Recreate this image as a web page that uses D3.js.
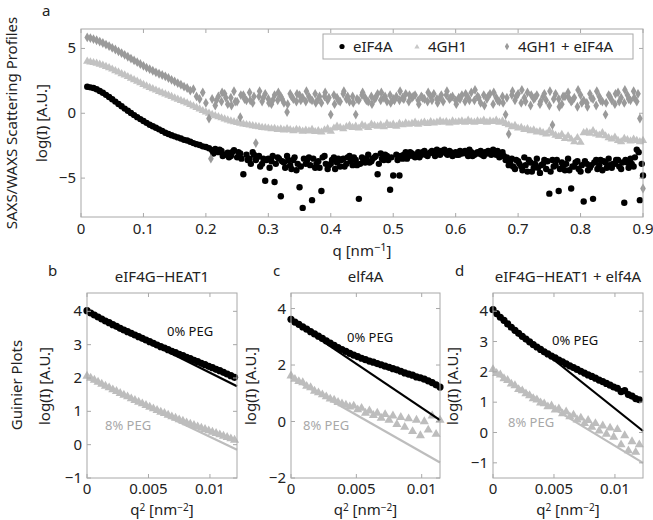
<!doctype html>
<html>
  <head>
    <meta charset="utf-8">
    <title>SAXS/WAXS scattering profiles and Guinier plots</title>
    <script src="https://cdnjs.cloudflare.com/ajax/libs/d3/7.8.5/d3.min.js"></script>
    <style>
      body { margin: 0; background: #fff; }
      svg text { font-family: "Noto Sans", sans-serif; fill: #222; }
    </style>
  </head>
  <body>
    <div id="chart"></div>
    <script>
      // ---- panel a: scattering profiles (q in nm^-1, log(I)) ----
      const qGrid = [
        0.010,0.015,0.020,0.025,0.030,0.035,0.040,0.045,0.050,0.055,
        0.060,0.065,0.070,0.075,0.080,0.085,0.090,0.095,0.100,0.105,
        0.110,0.115,0.120,0.125,0.130,0.135,0.140,0.145,0.150,0.155,
        0.160,0.165,0.170,0.175,0.180,0.185,0.190,0.195,0.200,0.205,
        0.210,0.215,0.220,0.225,0.230,0.235,0.240,0.245,0.250,0.255,
        0.260,0.265,0.270,0.275,0.280,0.285,0.290,0.295,0.300,0.305,
        0.310,0.315,0.320,0.325,0.330,0.335,0.340,0.345,0.350,0.355,
        0.360,0.365,0.370,0.375,0.380,0.385,0.390,0.395,0.400,0.405,
        0.410,0.415,0.420,0.425,0.430,0.435,0.440,0.445,0.450,0.455,
        0.460,0.465,0.470,0.475,0.480,0.485,0.490,0.495,0.500,0.505,
        0.510,0.515,0.520,0.525,0.530,0.535,0.540,0.545,0.550,0.555,
        0.560,0.565,0.570,0.575,0.580,0.585,0.590,0.595,0.600,0.605,
        0.610,0.615,0.620,0.625,0.630,0.635,0.640,0.645,0.650,0.655,
        0.660,0.665,0.670,0.675,0.680,0.685,0.690,0.695,0.700,0.705,
        0.710,0.715,0.720,0.725,0.730,0.735,0.740,0.745,0.750,0.755,
        0.760,0.765,0.770,0.775,0.780,0.785,0.790,0.795,0.800,0.805,
        0.810,0.815,0.820,0.825,0.830,0.835,0.840,0.845,0.850,0.855,
        0.860,0.865,0.870,0.875,0.880,0.885,0.890,0.895,0.900
      ];
      const eif4a = [
        2.05,2.0,1.95,1.85,1.72,1.58,1.42,1.25,1.08,0.9,
        0.72,0.54,0.36,0.19,0.02,-0.14,-0.3,-0.45,-0.6,-0.74,
        -0.88,-1.0,-1.12,-1.24,-1.36,-1.5,-1.6,-1.7,-1.78,-1.86,
        -1.95,-2.05,-2.1,-2.2,-2.3,-2.38,-2.45,-2.55,-2.6,-2.7,
        -2.85,-2.75,-3.0,-2.9,-3.2,-3.05,-3.3,-2.85,-3.4,-3.1,
        -4.7,-3.2,-3.5,-3.0,-3.6,-3.3,-3.9,-5.2,-3.5,-3.7,
        -5.3,-3.4,-6.4,-3.8,-3.3,-4.0,-3.6,-4.4,-5.7,-7.3,
        -3.9,-3.4,-6.7,-4.2,-3.7,-6.0,-3.3,-4.3,-3.9,-3.4,
        -3.8,-4.1,-3.5,-3.9,-3.3,-4.0,-3.6,-6.6,-3.4,-3.8,
        -3.2,-3.7,-3.4,-4.7,-3.1,-3.6,-3.3,-5.9,-4.8,-3.2,
        -4.8,-3.5,-3.0,-3.3,-3.1,-3.4,-3.0,-3.2,-2.9,-3.3,
        -3.0,-3.1,-2.8,-3.2,-3.0,-3.1,-2.9,-3.3,-3.0,-3.2,
        -3.1,-2.9,-3.3,-3.0,-3.2,-3.0,-2.9,-3.3,-3.1,-3.0,
        -2.8,-3.2,-3.4,-3.0,-3.6,-4.0,-3.5,-4.3,-3.7,-4.1,
        -3.4,-4.5,-3.8,-4.2,-3.5,-4.6,-3.9,-4.3,-6.2,-3.6,
        -4.0,-6.0,-3.8,-4.4,-3.5,-5.8,-4.1,-3.7,-4.5,-6.8,
        -3.9,-4.2,-6.6,-3.6,-4.0,-4.4,-3.8,-3.5,-4.2,-3.9,
        -3.6,-4.3,-6.9,-3.8,-3.5,-4.1,-2.8,-6.7,-4.8
      ];
      // additional measured points of the same curve (q, logI)
      const eif4aExtra = [
        [0.212,-3.1],[0.227,-3.3],[0.242,-3.0],[0.257,-3.5],[0.267,-3.6],[0.282,-3.4],
        [0.287,-4.1],[0.297,-3.6],[0.312,-3.9],[0.317,-3.5],[0.327,-4.2],[0.332,-3.6],
        [0.342,-3.4],[0.347,-3.9],[0.352,-4.1],[0.362,-3.6],[0.367,-4.0],[0.372,-3.5],
        [0.382,-4.2],[0.392,-3.9],[0.402,-3.6],[0.412,-3.5],[0.422,-4.1],[0.432,-3.7],
        [0.437,-3.4],[0.447,-3.9],[0.457,-3.5],[0.462,-3.8],[0.472,-3.3],[0.482,-3.5],
        [0.487,-3.2],[0.497,-3.4],[0.507,-3.6],[0.517,-3.2],[0.527,-3.0],[0.537,-3.2],
        [0.547,-3.0],[0.557,-3.1],[0.567,-3.3],[0.577,-2.9],[0.587,-3.2],[0.597,-3.1],
        [0.607,-2.9],[0.617,-3.1],[0.627,-3.3],[0.637,-3.1],[0.647,-3.0],[0.657,-3.2],
        [0.667,-2.9],[0.677,-3.3],[0.687,-3.8],[0.697,-3.6],[0.707,-4.4],[0.717,-3.6],
        [0.727,-3.9],[0.737,-4.0],[0.747,-3.7],[0.752,-4.5],[0.757,-4.1],[0.767,-4.3],
        [0.777,-3.9],[0.787,-4.1],[0.797,-4.3],[0.807,-3.7],[0.817,-4.0],[0.827,-4.3],
        [0.837,-3.7],[0.847,-4.0],[0.857,-3.6],[0.867,-3.8],[0.877,-4.2],[0.887,-3.4],
        [0.893,-3.0],[0.898,-3.9],
        [0.222,-2.8],[0.237,-3.4],[0.252,-3.0],[0.272,-3.9],[0.277,-3.2],[0.292,-3.5],
        [0.302,-4.2],[0.307,-3.3],[0.322,-3.7],[0.337,-4.3],[0.357,-3.5],[0.377,-3.9],
        [0.387,-3.4],[0.397,-4.0],[0.407,-4.3],[0.417,-3.6],[0.427,-3.4],[0.442,-4.0],
        [0.452,-3.6],[0.467,-3.5],[0.477,-3.9],[0.492,-3.6],[0.512,-3.3],[0.522,-3.5],
        [0.532,-3.3],[0.542,-3.4],[0.552,-3.2],[0.562,-2.9],[0.572,-3.0],[0.582,-2.8],
        [0.592,-3.0],[0.602,-3.2],[0.612,-3.0],[0.622,-2.8],[0.632,-3.1],[0.642,-3.2],
        [0.652,-2.9],[0.662,-3.1],[0.672,-3.1],[0.682,-3.4],[0.692,-4.1],[0.702,-3.9],
        [0.712,-4.0],[0.722,-4.5],[0.732,-4.2],[0.742,-3.6],[0.762,-3.6],[0.772,-4.0],
        [0.782,-4.4],[0.792,-3.8],[0.802,-4.0],[0.812,-4.4],[0.822,-3.8],[0.832,-3.6],
        [0.842,-4.2],[0.852,-3.9],[0.862,-4.1],[0.872,-3.6],[0.882,-3.9]
      ];
      const gh1 = [
        4.0,3.95,3.9,3.85,3.78,3.7,3.6,3.5,3.4,3.28,
        3.17,3.05,2.94,2.82,2.7,2.58,2.46,2.34,2.22,2.1,
        1.98,1.88,1.78,1.68,1.58,1.48,1.38,1.28,1.18,1.08,
        0.98,0.88,0.78,0.66,0.55,0.44,0.32,0.2,0.1,0.0,
        -0.1,-0.2,-0.28,-0.36,-0.44,-0.52,-0.6,-0.66,-0.72,-0.78,
        -0.84,-0.88,-0.92,-0.97,-1.0,-1.05,-1.1,-1.12,-1.15,-1.2,
        -1.18,-1.25,-1.22,-1.3,-1.2,-1.28,-1.35,-1.25,-1.3,-1.4,
        -1.32,-1.38,-1.25,-1.42,-1.35,-1.45,-1.3,-1.2,-1.4,-1.15,
        -1.0,-1.1,-1.2,-1.05,-0.95,-1.1,-1.0,-1.15,-0.9,-1.0,
        -1.1,-0.85,-0.95,-1.0,-0.9,-1.05,-0.8,-0.95,-0.85,-1.0,
        -0.8,-0.9,-0.75,-0.85,-0.8,-0.7,-0.85,-0.75,-0.7,-0.8,
        -0.65,-0.75,-0.7,-0.6,-0.7,-0.65,-0.75,-0.6,-0.7,-0.65,
        -0.6,-0.7,-0.55,-0.65,-0.7,-0.6,-0.65,-0.55,-0.7,-0.6,
        -0.65,-0.55,-0.7,-0.6,-0.8,-0.9,-1.05,-0.95,-1.15,-1.1,
        -1.25,-1.2,-1.35,-1.3,-1.45,-1.4,-1.5,-1.6,-1.35,-1.55,
        -1.7,-1.8,-1.65,-1.95,-1.75,-2.0,-2.2,-1.9,-2.25,-1.5,
        -1.45,-1.55,-1.35,-1.6,-1.7,-1.5,-1.75,-1.9,-2.0,-1.85,
        -2.1,-2.2,-1.95,-2.05,-2.15,-2.0,-2.1,-2.2,-2.1
      ];
      const gh1Eif4a = [
        5.85,5.8,5.72,5.63,5.53,5.42,5.3,5.18,5.05,4.92,
        4.78,4.64,4.5,4.36,4.22,4.08,3.94,3.8,3.66,3.52,
        3.4,3.28,3.16,3.05,2.95,2.85,2.72,2.58,2.45,2.32,
        2.2,2.05,1.95,1.75,1.85,1.3,1.1,1.6,0.8,-0.4,
        1.1,0.6,1.3,0.9,1.5,0.7,1.2,1.7,0.9,-0.3,
        1.4,1.0,1.6,0.8,-2.3,1.3,0.9,1.5,1.1,0.7,
        1.4,1.0,1.3,0.8,0.1,1.5,1.1,0.9,1.4,1.2,
        0.9,1.3,1.0,1.5,1.1,0.8,1.3,1.0,-0.1,1.4,
        1.2,0.9,1.5,1.1,0.9,1.3,-0.1,1.0,1.4,1.2,
        0.9,1.3,1.1,1.5,1.0,1.2,0.9,1.4,1.1,1.3,
        1.0,1.2,1.5,0.9,1.2,1.4,1.0,1.3,1.1,0.9,
        1.3,1.5,1.1,1.2,0.9,1.4,1.1,1.3,1.0,1.2,
        1.4,0.9,1.2,1.6,1.0,1.3,0.8,1.4,1.1,1.5,
        0.7,1.2,0.9,1.3,-0.1,-1.6,1.4,1.0,1.5,0.8,
        1.2,1.6,0.6,1.1,1.4,0.7,1.3,1.0,0.6,-0.9,
        1.5,1.1,0.7,1.3,1.6,0.9,1.2,0.5,1.4,1.0,
        0.8,1.5,1.1,0.6,1.3,0.9,-0.1,1.4,1.0,0.7,
        1.6,1.2,0.8,1.4,1.0,1.7,0.9,-0.4,-5.8
      ];
      const gh1Eif4aExtra = [
        [0.208,-3.5],[0.217,1.0],[0.232,1.2],[0.247,0.9],[0.262,1.1],[0.277,1.3],
        [0.292,1.2],[0.307,1.0],[0.322,1.1],[0.337,1.3],[0.352,1.0],[0.367,1.1],
        [0.382,1.3],[0.397,1.2],[0.412,1.0],[0.427,1.3],[0.442,1.1],[0.457,1.0],
        [0.472,1.2],[0.487,1.3],[0.502,1.0],[0.517,1.1],[0.532,1.3],[0.547,1.2],
        [0.562,1.0],[0.577,1.4],[0.592,1.2],[0.607,1.1],[0.622,1.0],[0.637,1.2],
        [0.652,1.3],[0.667,1.0],[0.682,1.2],[0.697,1.3],[0.712,0.9],[0.727,1.2],
        [0.742,1.5],[0.757,1.1],[0.772,1.3],[0.787,1.0],[0.802,0.8],[0.817,1.2],
        [0.832,1.0],[0.847,1.3],[0.862,0.9],[0.877,1.1],[0.892,1.5],
        [0.226,1.6],[0.241,0.6],[0.256,1.4],[0.271,1.0],[0.286,1.7],[0.301,0.8],
        [0.316,1.6],[0.331,0.7],[0.346,1.5],[0.361,1.7],[0.376,0.8],[0.391,1.6],
        [0.406,0.7],[0.421,1.7],[0.436,0.8],[0.451,1.6],[0.466,0.7],[0.481,1.6],
        [0.496,0.8],[0.511,1.7],[0.526,1.4],[0.541,0.7],[0.556,1.6],[0.571,0.8],
        [0.586,1.7],[0.601,0.7],[0.616,1.5],[0.631,1.8],[0.646,0.6],[0.661,1.6],
        [0.676,0.8],[0.691,1.7],[0.706,1.8],[0.721,1.4],[0.736,0.9],[0.751,1.7],
        [0.766,0.5],[0.781,1.2],[0.796,1.8],[0.811,0.5],[0.826,1.7],[0.841,0.8],
        [0.856,1.5],[0.871,1.8],[0.886,1.2]
      ];
      const legendLabels = ["eIF4A", "4GH1", "4GH1 + eIF4A"];
      const qTicks = [0, 0.1, 0.2, 0.3, 0.4, 0.5, 0.6, 0.7, 0.8, 0.9];
      const logITicks = [-5, 0, 5];

      // ---- panels b-d: Guinier plots (q^2 in nm^-2, log(I)) ----
      const q2Grid = [
        0,0.0003,0.0006,0.0009,0.0012,0.0015,0.0018,0.0021,0.0024,0.0027,
        0.003,0.0033,0.0036,0.0039,0.0042,0.0045,0.0048,0.0051,0.0054,0.0057,
        0.006,0.0063,0.0066,0.0069,0.0072,0.0075,0.0078,0.0081,0.0084,0.0087,
        0.009,0.0093,0.0096,0.0099,0.0102,0.0105,0.0108,0.0111,0.0114,0.0117,0.012
      ];
      const heat1Peg0 = [
        4.02,3.95,3.89,3.83,3.77,3.71,3.66,3.6,3.55,3.49,
        3.44,3.39,3.34,3.29,3.24,3.19,3.14,3.09,3.04,2.99,
        2.94,2.9,2.85,2.8,2.76,2.71,2.67,2.62,2.58,2.53,
        2.49,2.44,2.4,2.35,2.31,2.26,2.22,2.17,2.12,2.07,2.02
      ];
      const heat1Peg8 = [
        2.06,2.0,1.94,1.88,1.82,1.76,1.71,1.65,1.6,1.54,
        1.49,1.44,1.38,1.33,1.28,1.23,1.18,1.13,1.08,1.03,
        0.98,0.94,0.89,0.84,0.8,0.75,0.71,0.66,0.62,0.58,
        0.54,0.5,0.46,0.42,0.38,0.34,0.3,0.26,0.22,0.18,0.14
      ];
      const eif4aPeg0 = [
        3.62,3.52,3.44,3.35,3.27,3.18,3.1,3.02,2.94,2.86,
        2.78,2.7,2.62,2.55,2.48,2.41,2.35,2.3,2.24,2.19,
        2.14,2.1,2.05,2.01,1.96,1.92,1.87,1.83,1.78,1.72,
        1.68,1.64,1.58,1.55,1.5,1.44,1.38,1.3,1.22
      ];
      const eif4aPeg8 = [
        1.62,1.5,1.42,1.38,1.25,1.2,1.08,1.02,0.95,0.88,
        0.8,0.76,0.68,0.63,0.58,0.52,0.55,0.42,0.47,0.3,
        0.38,0.22,0.3,0.12,0.25,0.05,0.2,-0.1,0.15,-0.2,
        0.1,-0.35,0.05,-0.5,0.0,-0.3,0.2,-0.45,0.05
      ];
      const complexPeg0 = [
        4.05,3.92,3.8,3.7,3.58,3.47,3.37,3.27,3.17,3.08,
        2.99,2.9,2.82,2.74,2.66,2.59,2.52,2.46,2.39,2.33,
        2.26,2.2,2.14,2.08,2.02,1.96,1.9,1.85,1.79,1.73,
        1.68,1.62,1.56,1.5,1.46,1.35,1.38,1.25,1.2,1.12,1.08
      ];
      const complexPeg8 = [
        2.08,1.95,1.9,1.78,1.72,1.6,1.55,1.42,1.38,1.28,
        1.22,1.12,1.08,0.98,0.95,0.85,0.88,0.75,0.78,0.62,
        0.68,0.52,0.58,0.42,0.48,0.3,0.4,0.18,0.3,0.05,
        0.22,-0.05,0.15,-0.15,0.1,-0.4,-0.1,-0.6,-0.3,-0.65,-0.4
      ];
      // Guinier fits: [q2, logI] at the two ends of each fitted line
      const heat1Fit0 = [[0, 4.0], [0.0122, 1.75]];
      const heat1Fit8 = [[0, 2.0], [0.0122, -0.15]];
      const eif4aFit0 = [[0, 3.6], [0.0114, 0.05]];
      const eif4aFit8 = [[0, 1.55], [0.0114, -1.45]];
      const complexFit0 = [[0, 4.0], [0.0123, 0.05]];
      const complexFit8 = [[0, 2.0], [0.0123, -1.0]];
      const q2Ticks = [0, 0.005, 0.01];

      const svg = d3.select('#chart').append('svg')
        .attr('width', 653)
        .attr('height', 520);

      const axisGray = '#a8a8a8';

      // box with inward ticks on all four sides, matlab style
      function drawFrame(x, y, xticks, yticks, xfmt, labOff) {
        const [x0, x1] = x.range();
        const [y0, y1] = y.range();   // y0 bottom, y1 top
        const g = svg.append('g');
        g.append('rect')
          .attr('x', x0).attr('y', y1)
          .attr('width', x1 - x0).attr('height', y0 - y1)
          .attr('fill', 'none').attr('stroke', axisGray).attr('stroke-width', 1);
        const tl = 4;
        xticks.forEach(t => {
          g.append('line').attr('x1', x(t)).attr('x2', x(t)).attr('y1', y0).attr('y2', y0 - tl)
            .attr('stroke', axisGray);
          g.append('line').attr('x1', x(t)).attr('x2', x(t)).attr('y1', y1).attr('y2', y1 + tl)
            .attr('stroke', axisGray);
          g.append('text').attr('x', x(t)).attr('y', y0 + labOff)
            .attr('text-anchor', 'middle').style('font-size', '15px')
            .text(xfmt(t));
        });
        yticks.forEach(t => {
          g.append('line').attr('x1', x0).attr('x2', x0 + tl).attr('y1', y(t)).attr('y2', y(t))
            .attr('stroke', axisGray);
          g.append('line').attr('x1', x1).attr('x2', x1 - tl).attr('y1', y(t)).attr('y2', y(t))
            .attr('stroke', axisGray);
          g.append('text').attr('x', x0 - 5).attr('y', y(t) + 5)
            .attr('text-anchor', 'end').style('font-size', '15px')
            .text(t < 0 ? '\u2212' + Math.abs(t) : t);
        });
        return g;
      }

      function rotLabel(x, y, txt, size) {
        svg.append('text')
          .attr('transform', `translate(${x},${y}) rotate(-90)`)
          .attr('text-anchor', 'middle')
          .style('font-size', size + 'px')
          .text(txt);
      }

      const sym = (type, size) => d3.symbol().type(type).size(size)();

      // ===== panel a =====
      const xa = d3.scaleLinear().domain([0, 0.9]).range([81, 643]);
      const ya = d3.scaleLinear().domain([-8, 6.5]).range([217, 29]);

      const blackPts = qGrid.map((q, i) => [q, eif4a[i]]).concat(eif4aExtra);
      const lightPts = qGrid.map((q, i) => [q, gh1[i]]);
      const darkPts = qGrid.map((q, i) => [q, gh1Eif4a[i]]).concat(gh1Eif4aExtra);

      svg.append('g').selectAll('circle').data(blackPts).join('circle')
        .attr('cx', d => xa(d[0])).attr('cy', d => ya(d[1]))
        .attr('r', 3.2).attr('fill', '#000');
      svg.append('g').selectAll('path').data(lightPts).join('path')
        .attr('transform', d => `translate(${xa(d[0])},${ya(d[1])})`)
        .attr('d', sym(d3.symbolTriangle, 30)).attr('fill', '#c2c2c2');
      svg.append('g').selectAll('path').data(darkPts).join('path')
        .attr('transform', d => `translate(${xa(d[0])},${ya(d[1])})`)
        .attr('d', sym(d3.symbolDiamond, 28)).attr('fill', '#9a9a9a');

      drawFrame(xa, ya, qTicks, logITicks, t => t === 0 ? '0' : d3.format('.1f')(t), 17);

      // legend
      const leg = svg.append('g');
      leg.append('rect').attr('x', 323).attr('y', 34).attr('width', 310).attr('height', 25)
        .attr('fill', '#fff').attr('stroke', axisGray);
      const legX = [342, 417, 507];
      leg.append('circle').attr('cx', legX[0]).attr('cy', 46.5).attr('r', 2.6).attr('fill', '#000');
      leg.append('path').attr('transform', `translate(${legX[1]},47)`)
        .attr('d', sym(d3.symbolTriangle, 12)).attr('fill', '#c8c8c8');
      leg.append('path').attr('transform', `translate(${legX[2]},46.5)`)
        .attr('d', sym(d3.symbolDiamond, 16)).attr('fill', '#9a9a9a');
      legendLabels.forEach((l, i) => {
        leg.append('text').attr('x', legX[i] + 11).attr('y', 52)
          .style('font-size', '15px').text(l);
      });

      svg.append('text').attr('x', 42).attr('y', 16).style('font-size', '15px').text('a');
      rotLabel(17, 123, 'SAXS/WAXS Scattering Profiles', 15);
      rotLabel(47, 123, 'log(I) [A.U.]', 15);
      const qlab = svg.append('text').attr('x', 362).attr('y', 256)
        .attr('text-anchor', 'middle').style('font-size', '15px');
      qlab.append('tspan').text('q [nm');
      qlab.append('tspan').attr('dy', -5).style('font-size', '11px').text('\u22121');
      qlab.append('tspan').attr('dy', 5).text(']');

      // ===== panels b-d =====
      const panels = [
        { left: 87, right: 237, xmax: 0.0122, ydom: [-1, 4.55], yticks: [-1, 0, 1, 2, 3, 4],
          p0: heat1Peg0, p8: heat1Peg8, f0: heat1Fit0, f8: heat1Fit8,
          letter: 'b', lx: 48, title: 'eIF4G\u2212HEAT1', ylx: 50,
          t0: [167, 336], t8: [105, 430] },
        { left: 291, right: 440, xmax: 0.0114, ydom: [-2, 4.55], yticks: [-2, 0, 2, 4],
          p0: eif4aPeg0, p8: eif4aPeg8, f0: eif4aFit0, f8: eif4aFit8,
          letter: 'c', lx: 273, title: 'elf4A', ylx: 256,
          t0: [347, 342], t8: [303, 430] },
        { left: 493, right: 643, xmax: 0.0123, ydom: [-1.5, 4.6], yticks: [-1, 0, 1, 2, 3, 4],
          p0: complexPeg0, p8: complexPeg8, f0: complexFit0, f8: complexFit8,
          letter: 'd', lx: 455, title: 'eIF4G\u2212HEAT1 + elf4A', ylx: 458,
          t0: [552, 345], t8: [508, 427] }
      ];

      rotLabel(22, 385, 'Guinier Plots', 15);

      panels.forEach(p => {
        const x = d3.scaleLinear().domain([0, p.xmax]).range([p.left, p.right]);
        const y = d3.scaleLinear().domain(p.ydom).range([478, 293]);
        const g = svg.append('g');
        g.selectAll('circle').data(p.p0).join('circle')
          .attr('cx', (d, i) => x(q2Grid[i])).attr('cy', d => y(d))
          .attr('r', 3.6).attr('fill', '#000');
        g.selectAll('path.tri').data(p.p8).join('path').attr('class', 'tri')
          .attr('transform', (d, i) => `translate(${x(q2Grid[i])},${y(d)})`)
          .attr('d', sym(d3.symbolTriangle, 36)).attr('fill', '#bdbdbd');
        const line = d3.line().x(d => x(d[0])).y(d => y(d[1]));
        g.append('path').attr('d', line(p.f8)).attr('stroke', '#bdbdbd')
          .attr('stroke-width', 2.2).attr('fill', 'none');
        g.append('path').attr('d', line(p.f0)).attr('stroke', '#000')
          .attr('stroke-width', 2.2).attr('fill', 'none');

        drawFrame(x, y, q2Ticks, p.yticks, t => t === 0 ? '0' : String(t), 16);

        svg.append('text').attr('x', p.t0[0]).attr('y', p.t0[1])
          .style('font-size', '13px').style('fill', '#111').text('0% PEG');
        svg.append('text').attr('x', p.t8[0]).attr('y', p.t8[1])
          .style('font-size', '13px').style('fill', '#a8a8a8').text('8% PEG');

        svg.append('text').attr('x', p.lx).attr('y', 276).style('font-size', '15px').text(p.letter);
        svg.append('text').attr('x', (p.left + p.right) / 2).attr('y', 282)
          .attr('text-anchor', 'middle').style('font-size', '15px').text(p.title);
        rotLabel(p.ylx, 386, 'log(I) [A.U.]', 15);

        const lab = svg.append('text').attr('x', (p.left + p.right) / 2).attr('y', 515)
          .attr('text-anchor', 'middle').style('font-size', '15px');
        lab.append('tspan').text('q');
        lab.append('tspan').attr('dy', -4).style('font-size', '10px').text('2');
        lab.append('tspan').attr('dy', 4).text(' [nm');
        lab.append('tspan').attr('dy', -4).style('font-size', '10px').text('\u22122');
        lab.append('tspan').attr('dy', 4).text(']');
      });
    </script>
  </body>
</html>
